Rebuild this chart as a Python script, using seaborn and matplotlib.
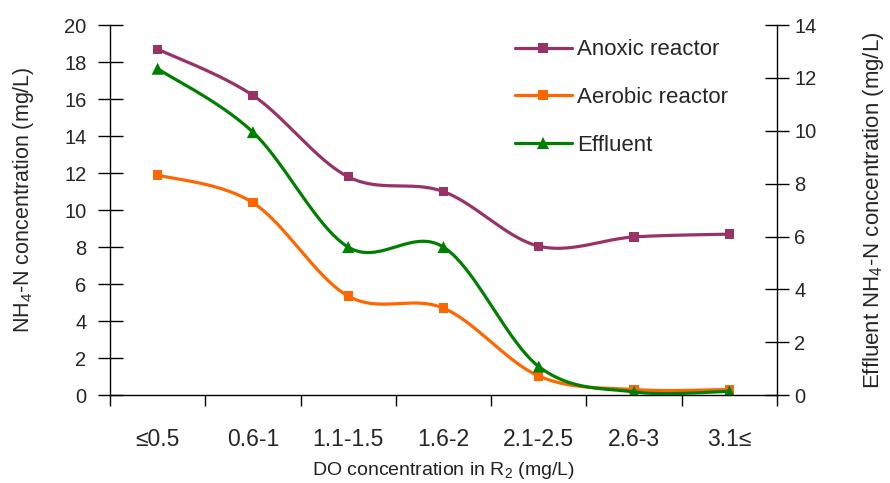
import numpy as np
import matplotlib
matplotlib.use("Agg")
import matplotlib.pyplot as plt
from matplotlib.lines import Line2D
import seaborn as sns

categories = ["≤0.5", "0.6-1", "1.1-1.5", "1.6-2", "2.1-2.5", "2.6-3", "3.1≤"]
anoxic = [18.7, 16.2, 11.8, 11.0, 8.05, 8.55, 8.7]
aerobic = [11.9, 10.4, 5.35, 4.7, 1.03, 0.3, 0.3]
effluent = [12.35, 9.95, 5.6, 5.6, 1.08, 0.12, 0.14]

C_ANOX = "#993366"
C_AER = "#FF6600"
C_EFF = "#008000"

sns.set_style("ticks")
plt.rcParams["font.family"] = ["Liberation Sans", "DejaVu Sans"]
plt.rcParams["mathtext.fontset"] = "custom"
plt.rcParams["mathtext.rm"] = "Liberation Sans"
plt.rcParams["mathtext.it"] = "Liberation Sans:italic"
plt.rcParams["mathtext.default"] = "regular"


def smooth(xs, ys, n=40):
    xs = np.asarray(xs, float)
    ys = np.asarray(ys, float)
    px = np.concatenate([[xs[0]], xs, [xs[-1]]])
    py = np.concatenate([[ys[0]], ys, [ys[-1]]])
    ox, oy = [], []
    t = np.linspace(0, 1, n)
    for i in range(1, len(px) - 2):
        p0 = np.array([px[i], py[i]])
        p1 = np.array([px[i + 1], py[i + 1]])
        c1 = p0 + (p1 - np.array([px[i - 1], py[i - 1]])) / 6
        c2 = p1 - (np.array([px[i + 2], py[i + 2]]) - p0) / 6
        b = ((1 - t) ** 3)[:, None] * p0 + (3 * (1 - t) ** 2 * t)[:, None] * c1 \
            + (3 * (1 - t) * t ** 2)[:, None] * c2 + (t ** 3)[:, None] * p1
        ox.extend(b[:, 0])
        oy.extend(b[:, 1])
    return np.array(ox), np.array(oy)


fig = plt.figure(figsize=(8.9, 4.83), dpi=100)
ax = fig.add_axes([0.1236, 0.182, 0.7494, 0.766])
ax2 = ax.twinx()

x = np.arange(len(categories))
lw = 2.3

sx, sy = smooth(x, anoxic)
ax.plot(sx, sy, color=C_ANOX, lw=lw, zorder=3)
sns.scatterplot(x=x, y=anoxic, marker="s", color=C_ANOX, s=45, edgecolor="none", ax=ax, zorder=4)

sx, sy = smooth(x, aerobic)
ax.plot(sx, sy, color=C_AER, lw=lw, zorder=3)
sns.scatterplot(x=x, y=aerobic, marker="s", color=C_AER, s=45, edgecolor="none", ax=ax, zorder=4)

sx, sy = smooth(x, effluent)
ax2.plot(sx, sy, color=C_EFF, lw=lw, zorder=3)
sns.scatterplot(x=x, y=effluent, marker="^", color=C_EFF, s=75, edgecolor="none", ax=ax2, zorder=4)

ax.set_xlim(-0.5, len(categories) - 0.5)
ax.set_ylim(0, 20)
ax2.set_ylim(0, 14)
ax.set_yticks(np.arange(0, 21, 2))
ax2.set_yticks(np.arange(0, 15, 2))

ax.set_xticks(np.arange(-0.5, len(categories), 1.0))
ax.set_xticklabels([])
ax.set_xticks(x, minor=True)
ax.set_xticklabels(categories, minor=True)
ax.tick_params(axis="x", which="major", direction="out", length=8, width=1, color="black")
ax.tick_params(axis="x", which="minor", length=0, pad=24, labelsize=16.5)
ax.tick_params(axis="y", direction="inout", length=18, width=1, labelsize=14.5, pad=8, color="black")
ax2.tick_params(axis="y", direction="inout", length=17, width=1, labelsize=14.5, pad=4, color="black")

for a in (ax, ax2):
    a.spines["top"].set_visible(False)
    for s in ("left", "right", "bottom"):
        a.spines[s].set_color("black")
        a.spines[s].set_linewidth(1)
ax.spines["right"].set_visible(False)
ax2.spines["left"].set_visible(False)
ax2.spines["bottom"].set_visible(False)
ax2.spines["right"].set_visible(True)

ax.set_xlabel("DO concentration in R$_2$ (mg/L)", fontsize=14, labelpad=6, color="#222222")
ax.set_ylabel("NH$_4$-N concentration (mg/L)", fontsize=15.5, labelpad=20)
ax.yaxis.label.set_y(0.527)
ax2.set_ylabel("Effluent NH$_4$-N concentration (mg/L)", fontsize=16, labelpad=32)

handles = [
    Line2D([], [], color=C_ANOX, lw=lw, marker="s", markersize=7, markeredgewidth=0),
    Line2D([], [], color=C_AER, lw=lw, marker="s", markersize=7, markeredgewidth=0),
    Line2D([], [], color=C_EFF, lw=lw, marker="^", markersize=9, markeredgewidth=0),
]
fig.legend(handles, ["Anoxic reactor", "Aerobic reactor", "Effluent"],
           loc="upper left", bbox_to_anchor=(0.556, 0.96), frameon=False,
           fontsize=16, handlelength=2.55, handletextpad=0.25, labelspacing=1.2)

fig.savefig("out.png", dpi=100)
